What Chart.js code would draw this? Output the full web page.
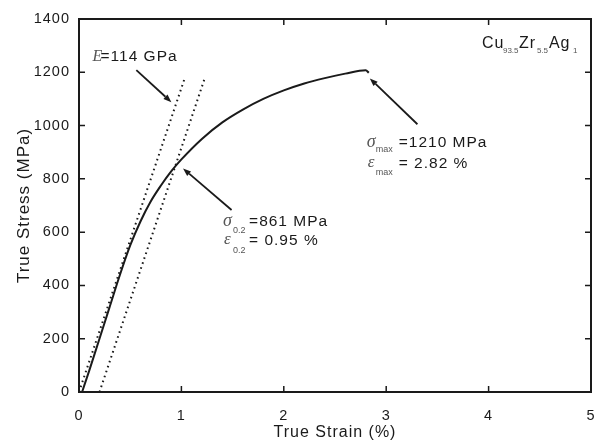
<!DOCTYPE html>
<html>
<head>
<meta charset="utf-8">
<script src="https://cdn.jsdelivr.net/npm/chart.js@4.4.1/dist/chart.umd.min.js"></script>
<style>
  html, body { margin: 0; padding: 0; background: #fff; }
  #wrap { width: 595px; height: 442px; position: relative; }
</style>
</head>
<body>
<div id="wrap"><canvas id="chart"></canvas></div>
<script>
// --- DATA ---
const strain = [0.03, 0.10, 0.20, 0.30, 0.40, 0.50, 0.60, 0.70, 0.80, 0.90, 1.00, 1.20, 1.40, 1.60, 1.80, 2.00, 2.20, 2.40, 2.60, 2.80, 2.83];
const stress = [0, 80, 200, 320, 440, 550, 640, 715, 775, 828, 873, 950, 1012, 1060, 1100, 1132, 1158, 1178, 1195, 1208, 1198];

// elastic line (E = 114 GPa) and the 0.2 % offset line
const modulusStrain = [0, 1.03];
const modulusStress = [0, 1175];
const offsetStrain = [0.2, 1.23];
const offsetStress = [0, 1180];

const xTicks = [0, 1, 2, 3, 4, 5];
const yTicks = [0, 200, 400, 600, 800, 1000, 1200, 1400];

const ink = '#1a1a1a';
const grey = '#555';

const toPoints = (xs, ys) => xs.map((x, i) => ({ x: x, y: ys[i] }));

// --- ANNOTATIONS (data coords for anchors, pixel offsets for text pieces) ---
const sans = (px) => `${px}px "Liberation Sans", Arial, sans-serif`;
const serifIt = (px) => `italic ${px}px "Liberation Serif", "Times New Roman", serif`;

const labels = [
  { x: 0.132, y: 1242, parts: [
    { t: 'E', dx: 0, dy: 0, font: serifIt(16), color: grey },
    { t: '=114 GPa', dx: 8, dy: 0, font: sans(15.5), color: ink }] },
  { x: 2.81, y: 921, parts: [
    { t: 'σ', dx: 0, dy: 0, font: serifIt(18), color: grey },
    { t: 'max', dx: 9, dy: 5, font: sans(9), color: grey, sp: 0 },
    { t: '=1210 MPa', dx: 32, dy: 0, font: sans(15.5), color: ink },
    { t: 'ε', dx: 1, dy: 20, font: serifIt(17), color: grey },
    { t: 'max', dx: 9, dy: 28, font: sans(9), color: grey, sp: 0 },
    { t: '= 2.82 %', dx: 32, dy: 21, font: sans(15.5), color: ink }] },
  { x: 1.407, y: 624, parts: [
    { t: 'σ', dx: 0, dy: 0, font: serifIt(18), color: grey },
    { t: '0.2', dx: 10, dy: 7, font: sans(9), color: grey, sp: 0 },
    { t: '=861 MPa', dx: 26, dy: 0, font: sans(15.5), color: ink },
    { t: 'ε', dx: 1, dy: 18, font: serifIt(17), color: grey },
    { t: '0.2', dx: 10, dy: 27, font: sans(9), color: grey, sp: 0 },
    { t: '= 0.95 %', dx: 26, dy: 19, font: sans(15.5), color: ink }] },
  { x: 3.935, y: 1291, parts: [
    { t: 'Cu', dx: 0, dy: 0, font: sans(16), color: ink },
    { t: '93.5', dx: 21, dy: 5, font: sans(8), color: grey, sp: 0 },
    { t: 'Zr', dx: 37, dy: 0, font: sans(16), color: ink },
    { t: '5.5', dx: 55, dy: 5, font: sans(8), color: grey, sp: 0 },
    { t: 'Ag', dx: 67, dy: 0, font: sans(16), color: ink },
    { t: '1', dx: 91, dy: 5, font: sans(8), color: grey, sp: 0 }] }
];

const arrows = [
  { from: [0.56, 1208], to: [0.902, 1088] },
  { from: [1.49, 683], to: [1.016, 839] },
  { from: [3.305, 1005], to: [2.84, 1177] }
];

// the reference font is a wide gothic face: widen Liberation Sans a little
const spacingPlugin = {
  id: 'spacing',
  beforeDraw(chart) { chart.ctx.letterSpacing = '1px'; },
  beforeDatasetsDraw(chart) { chart.ctx.letterSpacing = '0px'; }
};

// frame, inward ticks, arrows and labels
const decorPlugin = {
  id: 'decor',
  afterDraw(chart) {
    const { ctx, chartArea: a, scales: { x, y } } = chart;
    ctx.save();
    ctx.strokeStyle = ink;
    ctx.lineWidth = 2;
    ctx.strokeRect(a.left, a.top, a.right - a.left, a.bottom - a.top);

    ctx.lineWidth = 1.5;
    const len = 6;
    ctx.beginPath();
    xTicks.slice(1, -1).forEach(v => {
      const px = x.getPixelForValue(v);
      ctx.moveTo(px, a.bottom); ctx.lineTo(px, a.bottom - len);
      ctx.moveTo(px, a.top); ctx.lineTo(px, a.top + len);
    });
    yTicks.slice(1, -1).forEach(v => {
      const py = y.getPixelForValue(v);
      ctx.moveTo(a.left, py); ctx.lineTo(a.left + len, py);
      ctx.moveTo(a.right, py); ctx.lineTo(a.right - len, py);
    });
    ctx.stroke();

    // arrows
    ctx.fillStyle = ink;
    ctx.lineWidth = 1.8;
    arrows.forEach(ar => {
      const x0 = x.getPixelForValue(ar.from[0]), y0 = y.getPixelForValue(ar.from[1]);
      const x1 = x.getPixelForValue(ar.to[0]), y1 = y.getPixelForValue(ar.to[1]);
      const ang = Math.atan2(y1 - y0, x1 - x0);
      const h = 8, w = 3;
      const bx = x1 - h * Math.cos(ang), by = y1 - h * Math.sin(ang);
      ctx.beginPath();
      ctx.moveTo(x0, y0); ctx.lineTo(bx, by);
      ctx.stroke();
      ctx.beginPath();
      ctx.moveTo(x1, y1);
      ctx.lineTo(bx + w * Math.sin(ang), by - w * Math.cos(ang));
      ctx.lineTo(bx - w * Math.sin(ang), by + w * Math.cos(ang));
      ctx.closePath();
      ctx.fill();
    });

    // labels
    ctx.textBaseline = 'alphabetic';
    ctx.textAlign = 'left';
    labels.forEach(lb => {
      const px = x.getPixelForValue(lb.x), py = y.getPixelForValue(lb.y);
      lb.parts.forEach(p => {
        ctx.font = p.font;
        ctx.fillStyle = p.color;
        ctx.letterSpacing = (p.sp === 0) ? '0px' : '1px';
        ctx.fillText(p.t, px + p.dx, py + p.dy);
      });
    });
    ctx.restore();
  }
};

// --- CHART ---
Chart.defaults.font.family = '"Liberation Sans", Arial, sans-serif';
Chart.defaults.color = ink;

new Chart(document.getElementById('chart'), {
  type: 'scatter',
  data: {
    datasets: [
      { label: 'E line', data: toPoints(modulusStrain, modulusStress), showLine: true, borderColor: ink,
        borderWidth: 2, borderDash: [1.6, 3.6], pointRadius: 0 },
      { label: '0.2% offset', data: toPoints(offsetStrain, offsetStress), showLine: true, borderColor: ink,
        borderWidth: 2, borderDash: [1.6, 3.6], pointRadius: 0 },
      { label: 'True stress', data: toPoints(strain, stress), showLine: true, borderColor: ink,
        borderWidth: 2, pointRadius: 0, cubicInterpolationMode: 'monotone' }
    ]
  },
  options: {
    responsive: true,
    maintainAspectRatio: false,
    animation: false,
    layout: { padding: { top: 19, right: 4, left: 0, bottom: 0 } },
    plugins: { legend: { display: false }, tooltip: { enabled: false } },
    scales: {
      x: {
        type: 'linear', min: 0, max: 5,
        afterFit: (s) => { s.height = 50; s.paddingLeft = 0; s.paddingRight = 0; },
        afterBuildTicks: (s) => { s.ticks = xTicks.map(v => ({ value: v })); },
        grid: { display: false, drawTicks: false },
        border: { display: false },
        ticks: { padding: 15, font: { size: 14.5 }, color: ink, callback: (v) => String(v) },
        title: { display: true, text: 'True Strain (%)', font: { size: 16 }, color: ink, padding: { top: 0, bottom: 0 } }
      },
      y: {
        type: 'linear', min: 0, max: 1400,
        afterFit: (s) => { s.width = 79; s.paddingTop = 0; s.paddingBottom = 0; },
        afterBuildTicks: (s) => { s.ticks = yTicks.map(v => ({ value: v })); },
        grid: { display: false, drawTicks: false },
        border: { display: false },
        ticks: { padding: 9, font: { size: 14.5 }, color: ink, callback: (v) => String(v) },
        title: { display: true, text: 'True Stress (MPa)', font: { size: 17 }, color: ink, padding: { top: 14, bottom: 0 } }
      }
    }
  },
  plugins: [spacingPlugin, decorPlugin]
});
</script>
</body>
</html>
